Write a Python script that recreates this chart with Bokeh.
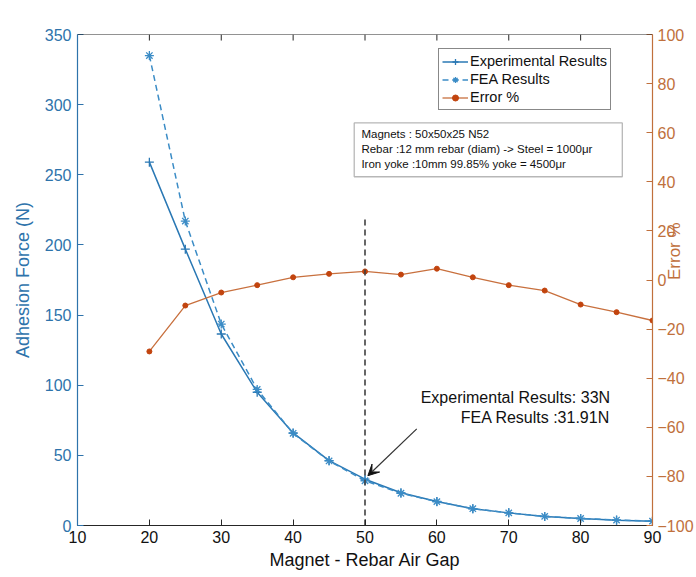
import math
from bokeh.plotting import figure
from bokeh.models import (Range1d, LinearAxis, Legend, LegendItem, Label, BoxAnnotation,
                          Arrow, VeeHead, Span, FixedTicker)
from bokeh.embed import file_html
from bokeh.resources import INLINE

# ---- data ----
gap = [20, 25, 30, 35, 40, 45, 50, 55, 60, 65, 70, 75, 80, 85, 90]
experimental = [259, 197, 136.5, 95, 66, 46.3, 33, 23.3, 17.1, 11.9, 9.0, 6.4, 5.0, 3.8, 3.1]
fea = [335, 217, 143.6, 97, 65.7, 46, 31.91, 23.0, 17.0, 12.0, 9.0, 6.5, 5.0, 3.9, 3.1]
error_pct = [-29.1, -10.4, -5.1, -2.1, 1.1, 2.5, 3.5, 2.2, 4.6, 1.1, -2.1, -4.3, -10.0, -13.1, -16.5]
x_ticks = [10, 20, 30, 40, 50, 60, 70, 80, 90]
y_ticks = [0, 50, 100, 150, 200, 250, 300, 350]
err_ticks = [-100, -80, -60, -40, -20, 0, 20, 40, 60, 80, 100]

FONT = "Liberation Sans"
BLUE_AX = "#2e73ab"
BLUE_EXP = "#2a78b4"
BLUE_FEA = "#3b8cc6"
ORANGE_AX = "#c0703c"
ORANGE_LINE = "#c8703e"
ORANGE_MK = "#c2440e"
DARK = "#262626"

p = figure(width=696, height=577, output_backend="svg", toolbar_location=None,
           x_range=Range1d(10, 90), y_range=Range1d(0, 350),
           min_border_left=77, min_border_right=44, min_border_top=34, min_border_bottom=52,
           x_axis_location=None, y_axis_location=None)
p.extra_y_ranges = {"err": Range1d(-100, 100)}
p.outline_line_color = None
p.xgrid.visible = False
p.ygrid.visible = False
p.background_fill_color = "white"
p.border_fill_color = "white"

def style(ax, color, ticks):
    ax.ticker = FixedTicker(ticks=ticks)
    ax.axis_line_color = color
    ax.axis_line_width = 1.2
    ax.major_tick_line_color = color
    ax.major_tick_in = 6
    ax.major_tick_out = 0
    ax.minor_tick_line_color = None
    ax.major_label_text_color = color
    ax.major_label_text_font = FONT
    ax.major_label_text_font_size = "16px"
    ax.axis_label_text_font = FONT
    ax.axis_label_text_font_size = "18px"
    ax.axis_label_text_font_style = "normal"
    ax.axis_label_text_color = color

xb = LinearAxis(axis_label="Magnet - Rebar Air Gap")
style(xb, DARK, x_ticks)
xb.major_label_text_color = "#111111"
xb.axis_label_text_color = "#111111"
xb.major_label_standoff = 5
xb.axis_label_standoff = 4
p.add_layout(xb, "below")

yl = LinearAxis(axis_label="Adhesion Force (N)")
style(yl, BLUE_AX, y_ticks)
yl.major_label_standoff = 6
yl.axis_label_standoff = 9
p.add_layout(yl, "left")

yr = LinearAxis(y_range_name="err", axis_label="Error %")
style(yr, ORANGE_AX, err_ticks)
yr.major_label_standoff = 5
yr.axis_label_text_font_size = "17px"
yr.axis_label_standoff = -22
yr.axis_label_orientation = math.pi / 2
p.add_layout(yr, "right")

# top box edge with inward ticks
p.add_layout(Span(location=350, dimension="width", line_color=DARK, line_width=1.2))
p.segment(x0=x_ticks, y0=[350] * len(x_ticks), x1=x_ticks, y1=[345.7] * len(x_ticks),
          line_color=DARK, line_width=1)

# ---- series ----
l1 = p.line(gap, experimental, line_color=BLUE_EXP, line_width=1.5)
m1 = p.scatter(gap, experimental, marker="cross", size=9, line_color=BLUE_EXP, line_width=1.3)
l2 = p.line(gap, fea, line_color=BLUE_FEA, line_width=1.5, line_dash="6 4")
m2 = p.scatter(gap, fea, marker="asterisk", size=9, line_color=BLUE_FEA, line_width=1.3)
l3 = p.line(gap, error_pct, line_color=ORANGE_LINE, line_width=1.3, y_range_name="err")
m3 = p.scatter(gap, error_pct, marker="circle", size=5, fill_color=ORANGE_MK,
               line_color=ORANGE_MK, y_range_name="err")

# dashed vertical line at 50
p.segment(x0=[50], y0=[0], x1=[50], y1=[220], line_color="#404040", line_width=1.6, line_dash="6 4")

legend = Legend(items=[LegendItem(label="Experimental Results", renderers=[l1, m1]),
                       LegendItem(label="FEA Results", renderers=[l2, m2]),
                       LegendItem(label="Error %", renderers=[l3, m3])],
                location=(361, 415), orientation="vertical")
legend.border_line_color = "#111111"
legend.border_line_width = 1.2
legend.padding = 3
legend.spacing = 0
legend.margin = 0
legend.glyph_height = 15
legend.glyph_width = 26
legend.label_height = 18
legend.label_standoff = 2
legend.label_text_font = FONT
legend.label_text_font_size = "14.5px"
legend.label_text_color = "#111111"
legend.background_fill_alpha = 1
p.add_layout(legend, "center")

# info box
p.add_layout(BoxAnnotation(left=48.5, right=85.8, bottom=248.6, top=287.0,
                           fill_color="white", fill_alpha=1, line_color="#111111", line_width=1.3))
info = ["Magnets : 50x50x25 N52",
        "Rebar :12 mm rebar (diam) -> Steel = 1000\u03bcr",
        "Iron yoke :10mm 99.85% yoke = 4500\u03bcr"]
for i, t in enumerate(info):
    p.add_layout(Label(x=49.5, y=279.0 - i * 10.7, text=t, text_font=FONT, text_font_size="11.5px",
                       text_color="#111111", text_baseline="middle", text_align="left"))

# annotation text
p.add_layout(Label(x=84.1, y=91.2, text="Experimental Results: 33N", text_font=FONT,
                   text_font_size="16px", text_color="#111111", text_align="right", text_baseline="middle"))
p.add_layout(Label(x=84.1, y=76.9, text="FEA Results :31.91N", text_font=FONT,
                   text_font_size="16px", text_color="#111111", text_align="right", text_baseline="middle"))

p.add_layout(Arrow(x_start=57.2, y_start=68.9, x_end=50.4, y_end=35.5,
                   line_color="#333333", line_width=1.2,
                   end=VeeHead(size=11, fill_color="#111111", line_color="#111111")))

# title
p.add_layout(Label(x=50, y=361.8, text="12mm Rebar Experimental vs FEA", text_font=FONT,
                   text_font_size="16px", text_font_style="bold", text_color="#111111",
                   text_align="center", text_baseline="middle"))

open("out.html", "w").write(file_html(p, INLINE))
